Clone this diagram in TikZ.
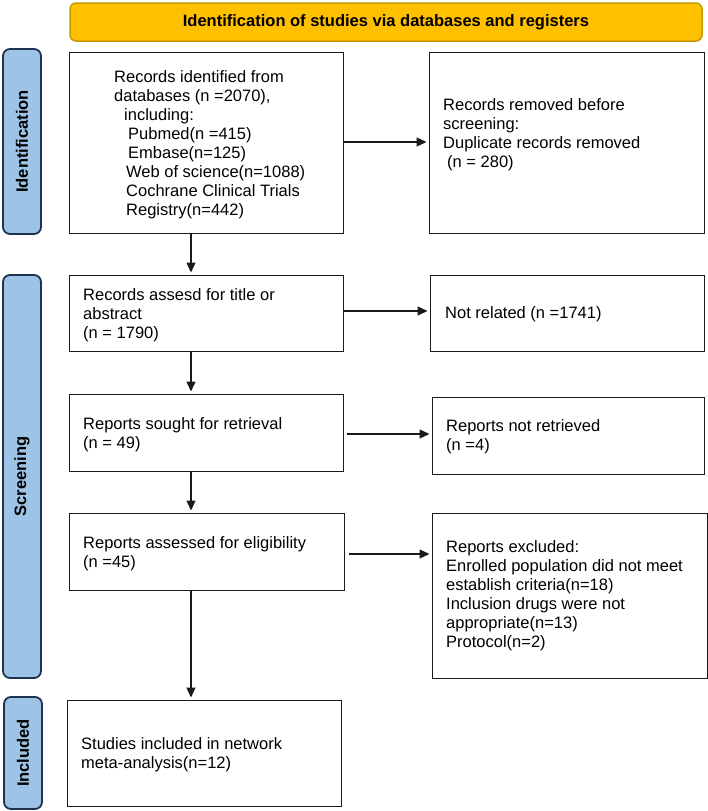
\documentclass[tikz,border=0pt]{standalone}
\usepackage{fontspec}
\setmainfont{Liberation Sans}
\usetikzlibrary{arrows.meta}
\definecolor{bannerfill}{HTML}{FFC000}
\definecolor{bannerline}{HTML}{C99A00}
\definecolor{labfill}{HTML}{9DC3E6}
\definecolor{labline}{HTML}{1F3350}
\definecolor{boxline}{HTML}{1A1A1A}
\begin{document}
\begin{tikzpicture}[x=1pt,y=-1pt,
  every node/.style={font=\fontsize{16.5}{19}\selectfont},
  box/.style={draw=boxline, line width=1.4pt, anchor=north west, inner sep=0pt},
  txt/.style={anchor=north west, inner sep=0pt, align=left},
  lab/.style={draw=labline, fill=labfill, line width=1.8pt, rounded corners=7pt,
    rotate=90, inner sep=0pt, font=\fontsize{16.5}{19}\selectfont\bfseries},
  arr/.style={draw=boxline, line width=1.3pt, -{Triangle[length=10pt,width=9pt]}, shorten >=2.5pt}
]
\useasboundingbox (0,0) rectangle (708,811);

% banner
\node[draw=bannerline, fill=bannerfill, line width=1.5pt, rounded corners=6pt,
  minimum width=632, minimum height=38, inner sep=0pt,
  font=\fontsize{16.5}{19}\selectfont\bfseries] (ban) at (386,22)
  {Identification of studies via databases and registers};

% side labels
\node[lab, minimum width=185, minimum height=38] (idl) at (22,141.5) {Identification};
\node[lab, minimum width=403, minimum height=38] (scl) at (22,476.5) {Screening};
\node[lab, minimum width=112, minimum height=38] (inl) at (23,753) {Included};

% boxes
\node[box, minimum width=274, minimum height=181] (b1) at (69,52) {};
\node[box, minimum width=275, minimum height=181] (r1) at (429,52) {};
\node[box, minimum width=274, minimum height=76] (b2) at (69,275) {};
\node[box, minimum width=274, minimum height=76] (r2) at (430,275) {};
\node[box, minimum width=274, minimum height=77] (b3) at (69,394) {};
\node[box, minimum width=272, minimum height=77] (r3) at (432,397) {};
\node[box, minimum width=275, minimum height=77] (b4) at (69,513) {};
\node[box, minimum width=275, minimum height=165] (r4) at (432,513) {};
\node[box, minimum width=274, minimum height=106] (b5) at (67,700) {};

% texts
\node[txt] (b1t) at (114,70) {Records identified from\\
databases (n =2070),\\
\hspace*{10pt}including:\\
\hspace*{14pt}Pubmed(n =415)\\
\hspace*{14pt}Embase(n=125)\\
\hspace*{12pt}Web of science(n=1088)\\
\hspace*{12pt}Cochrane Clinical Trials\\
\hspace*{12pt}Registry(n=442)};
\node[txt] (r1t) at (443,98) {Records removed before\\
screening:\\
Duplicate records removed\\
\hspace*{4pt}(n = 280)};
\node[txt] (b2t) at (83,288) {Records assesd for title or\\
abstract\\
(n = 1790)};
\node[txt] (r2t) at (445,306) {Not related (n =1741)};
\node[txt] (b3t) at (83,417) {Reports sought for retrieval\\
(n = 49)};
\node[txt] (r3t) at (446,419) {Reports not retrieved\\
(n =4)};
\node[txt] (b4t) at (83,536) {Reports assessed for eligibility\\
(n =45)};
\node[txt] (r4t) at (446,540) {Reports excluded:\\
Enrolled population did not meet\\
establish criteria(n=18)\\
Inclusion drugs were not\\
appropriate(n=13)\\
Protocol(n=2)};
\node[txt] (b5t) at (81,737) {Studies included in network\\
meta-analysis(n=12)};

% connectors
\coordinate (vx) at (191,0);
\draw[arr] (b1.south -| vx) -- (b2.north -| vx);
\draw[arr] (b2.south -| vx) -- (b3.north -| vx);
\draw[arr] (b3.south -| vx) -- (b4.north -| vx);
\draw[arr] (b4.south -| vx) -- (b5.north -| vx);

\coordinate (h1) at (0,142);
\coordinate (h2) at (0,311);
\coordinate (h3) at (0,434);
\coordinate (h4) at (0,554);
\draw[arr] (b1.east |- h1) -- (r1.west |- h1);
\draw[arr] (b2.east |- h2) -- (r2.west |- h2);
\draw[arr] ([xshift=3pt]b3.east |- h3) -- (r3.west |- h3);
\draw[arr] ([xshift=4pt]b4.east |- h4) -- (r4.west |- h4);
\end{tikzpicture}
\end{document}
